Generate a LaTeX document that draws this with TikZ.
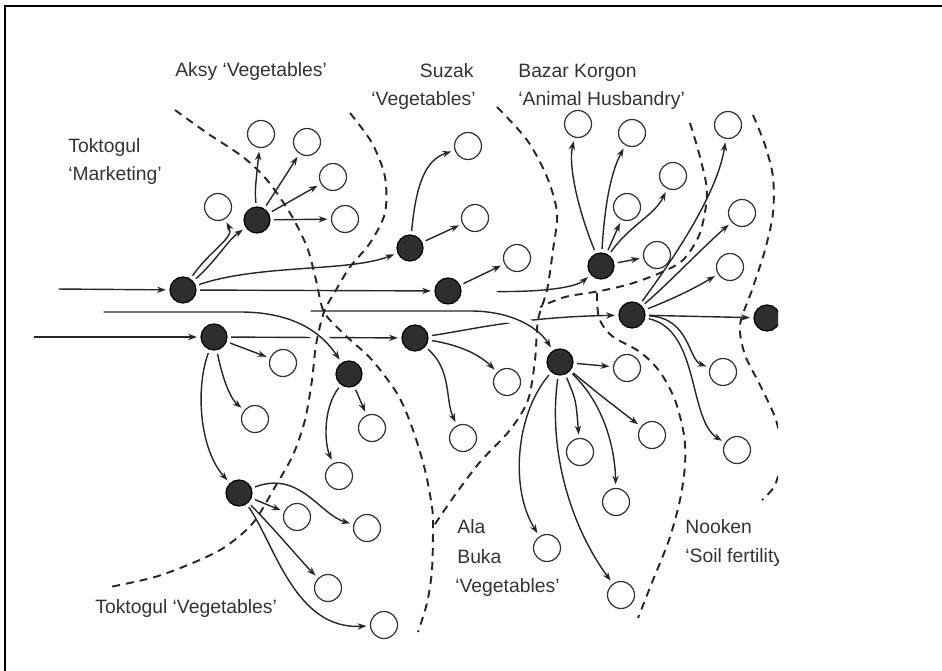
\documentclass[tikz,border=0pt]{standalone}
\usepackage{fontspec}
\setmainfont{Liberation Sans}
\usetikzlibrary{arrows.meta}

\begin{document}
\begin{tikzpicture}[x=0.02cm,y=-0.02cm,
  hub/.style={circle,draw=black,line width=0.7pt,fill=black!82,minimum size=0.52cm,inner sep=0pt},
  unit/.style={circle,draw=black!80,line width=0.7pt,minimum size=0.54cm,inner sep=0pt},
  flow/.style={draw=black!85,line width=0.8pt,-{Stealth[length=5pt,width=3.6pt]},shorten >=2pt,shorten <=2pt},
  gap/.style={preaction={draw=white,line width=7pt,-}},
  bound/.style={draw=black!85,line width=1.1pt,dash pattern=on 0.16cm off 0.12cm},
  lbl/.style={anchor=base west,inner sep=0pt,text=black!80,font=\fontsize{11pt}{13pt}\selectfont}]
\useasboundingbox (0,0) rectangle (942,671);
\draw[line width=1.2pt] (942,6) -- (5,6) -- (5,671);

\begin{scope}
\clip (0,0) rectangle (778,671);

% labels
\node[lbl] (lTokA) at (68,153) {Toktogul};
\node[lbl] (lTokB) at (68,181) {`Marketing'};
\node[lbl] (lAksy) at (175,77) {Aksy `Vegetables'};
\node[lbl,anchor=base east] (lSuzA) at (474,78) {Suzak};
\node[lbl,anchor=base east] (lSuzB) at (476,106) {`Vegetables'};
\node[lbl] (lBazA) at (518,78) {Bazar Korgon};
\node[lbl] (lBazB) at (518,106) {`Animal Husbandry'};
\node[lbl] (lTokVeg) at (95,613) {Toktogul `Vegetables'};
\node[lbl] (lAlaA) at (457,533) {Ala};
\node[lbl] (lAlaB) at (457,563) {Buka};
\node[lbl] (lAlaC) at (455,592) {`Vegetables'};
\node[lbl] (lNooA) at (685,533) {Nooken};
\node[lbl] (lNooB) at (685,562) {`Soil fertility'};

% hubs
\node[hub] (hA) at (183,290) {};
\node[hub] (hB) at (257,220) {};
\node[hub] (hC) at (214,337) {};
\node[hub] (hD) at (239,493) {};
\node[hub] (hE) at (349,374) {};
\node[hub] (hF) at (410,248) {};
\node[hub] (hG) at (448,291) {};
\node[hub] (hH) at (415,338) {};
\node[hub] (hI) at (601,266) {};
\node[hub] (hJ) at (632,315) {};
\node[hub] (hK) at (560,362) {};
\node[hub] (hL) at (767,318) {};

% open circles
\node[unit] (a1) at (218,207) {};
\node[unit] (a2) at (261,134) {};
\node[unit] (a3) at (307,142) {};
\node[unit] (a4) at (333,177) {};
\node[unit] (a5) at (345,219) {};
\node[unit] (s1) at (468,146) {};
\node[unit] (s2) at (475,218) {};
\node[unit] (s3) at (517,258) {};
\node[unit] (b1) at (578,124) {};
\node[unit] (b2) at (632,133) {};
\node[unit] (b3) at (673,176) {};
\node[unit] (b4) at (627,207) {};
\node[unit] (b5) at (657,255) {};
\node[unit] (n1) at (728,125) {};
\node[unit] (n2) at (742,213) {};
\node[unit] (n3) at (730,267) {};
\node[unit] (t1) at (283,363) {};
\node[unit] (t2) at (255,419) {};
\node[unit] (e1) at (372,428) {};
\node[unit] (e2) at (339,476) {};
\node[unit] (h1) at (507,382) {};
\node[unit] (h2) at (463,438) {};
\node[unit] (k1) at (627,368) {};
\node[unit] (k2) at (580,452) {};
\node[unit] (k3) at (652,435) {};
\node[unit] (k4) at (616,502) {};
\node[unit] (k5) at (547,548) {};
\node[unit] (k6) at (621,595) {};
\node[unit] (j1) at (723,372) {};
\node[unit] (j2) at (737,450) {};
\node[unit] (d1) at (297,517) {};
\node[unit] (d2) at (367,528) {};
\node[unit] (d3) at (328,588) {};
\node[unit] (d4) at (384,625) {};

% free ends
\coordinate (inA) at (55,289);
\coordinate (inC) at (30,337);
\coordinate (inE) at (100,312);
\coordinate (inK) at (307,311);

% main stream
\draw[flow] (inA) -- (hA);
\draw[flow] (inC) -- (hC);
\draw[flow] (hC) -- (hH);
\draw[flow] (hH) .. controls (470,330) and (520,317) .. (hJ);
\draw[flow,gap] (inE) -- (240,312) .. controls (290,312) and (320,330) .. (hE);
\draw[flow,gap] (inK) -- (470,311) .. controls (515,311) and (540,330) .. (hK);

% Toktogul marketing
\draw[flow] (hA) .. controls (210,250) and (235,238) .. (a1);
\draw[flow] (hA) .. controls (215,262) and (228,240) .. (hB);
\draw[flow] (hA) .. controls (260,264) and (350,272) .. (hF);
\draw[flow] (hA) -- (hG);
\draw[flow] (hC) -- (t1);
\draw[flow] (hC) .. controls (224,385) and (232,400) .. (t2);
\draw[flow] (hC) .. controls (195,390) and (200,450) .. (hD);

% Aksy
\draw[flow] (hB) .. controls (255,190) .. (a2);
\draw[flow] (hB) -- (a3);
\draw[flow] (hB) -- (a4);
\draw[flow] (hB) -- (a5);

% Suzak
\draw[flow] (hF) .. controls (416,185) and (425,160) .. (s1);
\draw[flow] (hF) -- (s2);
\draw[flow] (hG) -- (s3);
\draw[flow,shorten <=0.7cm] (hG) .. controls (540,292) and (575,288) .. (hI);
\draw[flow] (hE) -- (e1);
\draw[flow] (hE) .. controls (322,410) and (325,445) .. (e2);
\draw[flow] (hH) .. controls (460,345) and (480,355) .. (h1);
\draw[flow] (hH) .. controls (452,370) and (445,400) .. (h2);

% Toktogul vegetables
\draw[flow] (hD) -- (d1);
\draw[flow] (hD) .. controls (300,470) and (320,515) .. (d2);
\draw[flow] (hD) .. controls (280,535) and (300,560) .. (d3);
\draw[flow] (hD) .. controls (275,545) and (295,630) .. (d4);

% Bazar Korgon
\draw[flow] (hI) .. controls (578,210) and (568,165) .. (b1);
\draw[flow] (hI) .. controls (605,200) and (612,170) .. (b2);
\draw[flow] (hI) -- (b4);
\draw[flow] (hI) .. controls (630,225) and (655,215) .. (b3);
\draw[flow] (hI) -- (b5);

% Nooken
\draw[flow] (hJ) .. controls (680,250) and (718,190) .. (n1);
\draw[flow] (hJ) .. controls (672,280) and (700,250) .. (n2);
\draw[flow] (hJ) .. controls (675,298) and (695,288) .. (n3);
\draw[flow] (hJ) -- (hL);
\draw[flow] (hJ) .. controls (690,318) and (688,360) .. (j1);
\draw[flow] (hJ) .. controls (700,330) and (688,420) .. (j2);

% Ala Buka
\draw[flow] (hK) -- (k1);
\draw[flow] (hK) .. controls (576,400) .. (k2);
\draw[flow] (hK) .. controls (600,395) .. (k3);
\draw[flow] (hK) .. controls (605,405) and (615,450) .. (k4);
\draw[flow] (hK) .. controls (515,415) and (510,490) .. (k5);
\draw[flow] (hK) .. controls (548,450) and (570,525) .. (k6);

% region boundaries
\draw[bound] plot[smooth] coordinates {(175,110) (207,133) (243,157) (267,180) (290,213) (307,247) (316,280) (324,312) (345,335) (372,360) (398,395) (413,430) (425,470) (432,507) (433,527) (432,570) (427,603) (418,632)};
\draw[bound] plot[smooth] coordinates {(350,113) (372,143) (385,177) (385,213) (370,243) (350,267) (336,290) (324,312) (316,345) (312,380) (305,420) (293,455) (275,487) (253,523) (225,547) (195,562) (155,577) (110,587)};
\draw[bound] plot[smooth] coordinates {(497,107) (527,140) (547,177) (557,213) (553,250) (547,290) (538,320) (535,360) (528,400) (510,430) (480,462) (455,495) (433,527)};
\draw[bound] plot[smooth] coordinates {(690,123) (700,157) (707,193) (700,233) (683,260) (660,273) (630,284) (600,291) (565,297) (540,307)};
\draw[bound] plot[smooth] coordinates {(597,293) (599,318) (612,336) (640,352) (660,372) (675,400) (684,435) (685,465) (680,500) (669,540) (653,580) (638,618)};
\draw[bound] plot[smooth] coordinates {(753,115) (765,145) (773,177) (773,213) (765,250) (752,290) (740,325) (745,355) (760,385) (776,420) (782,455) (775,485) (762,500)};
\end{scope}
\end{tikzpicture}
\end{document}
